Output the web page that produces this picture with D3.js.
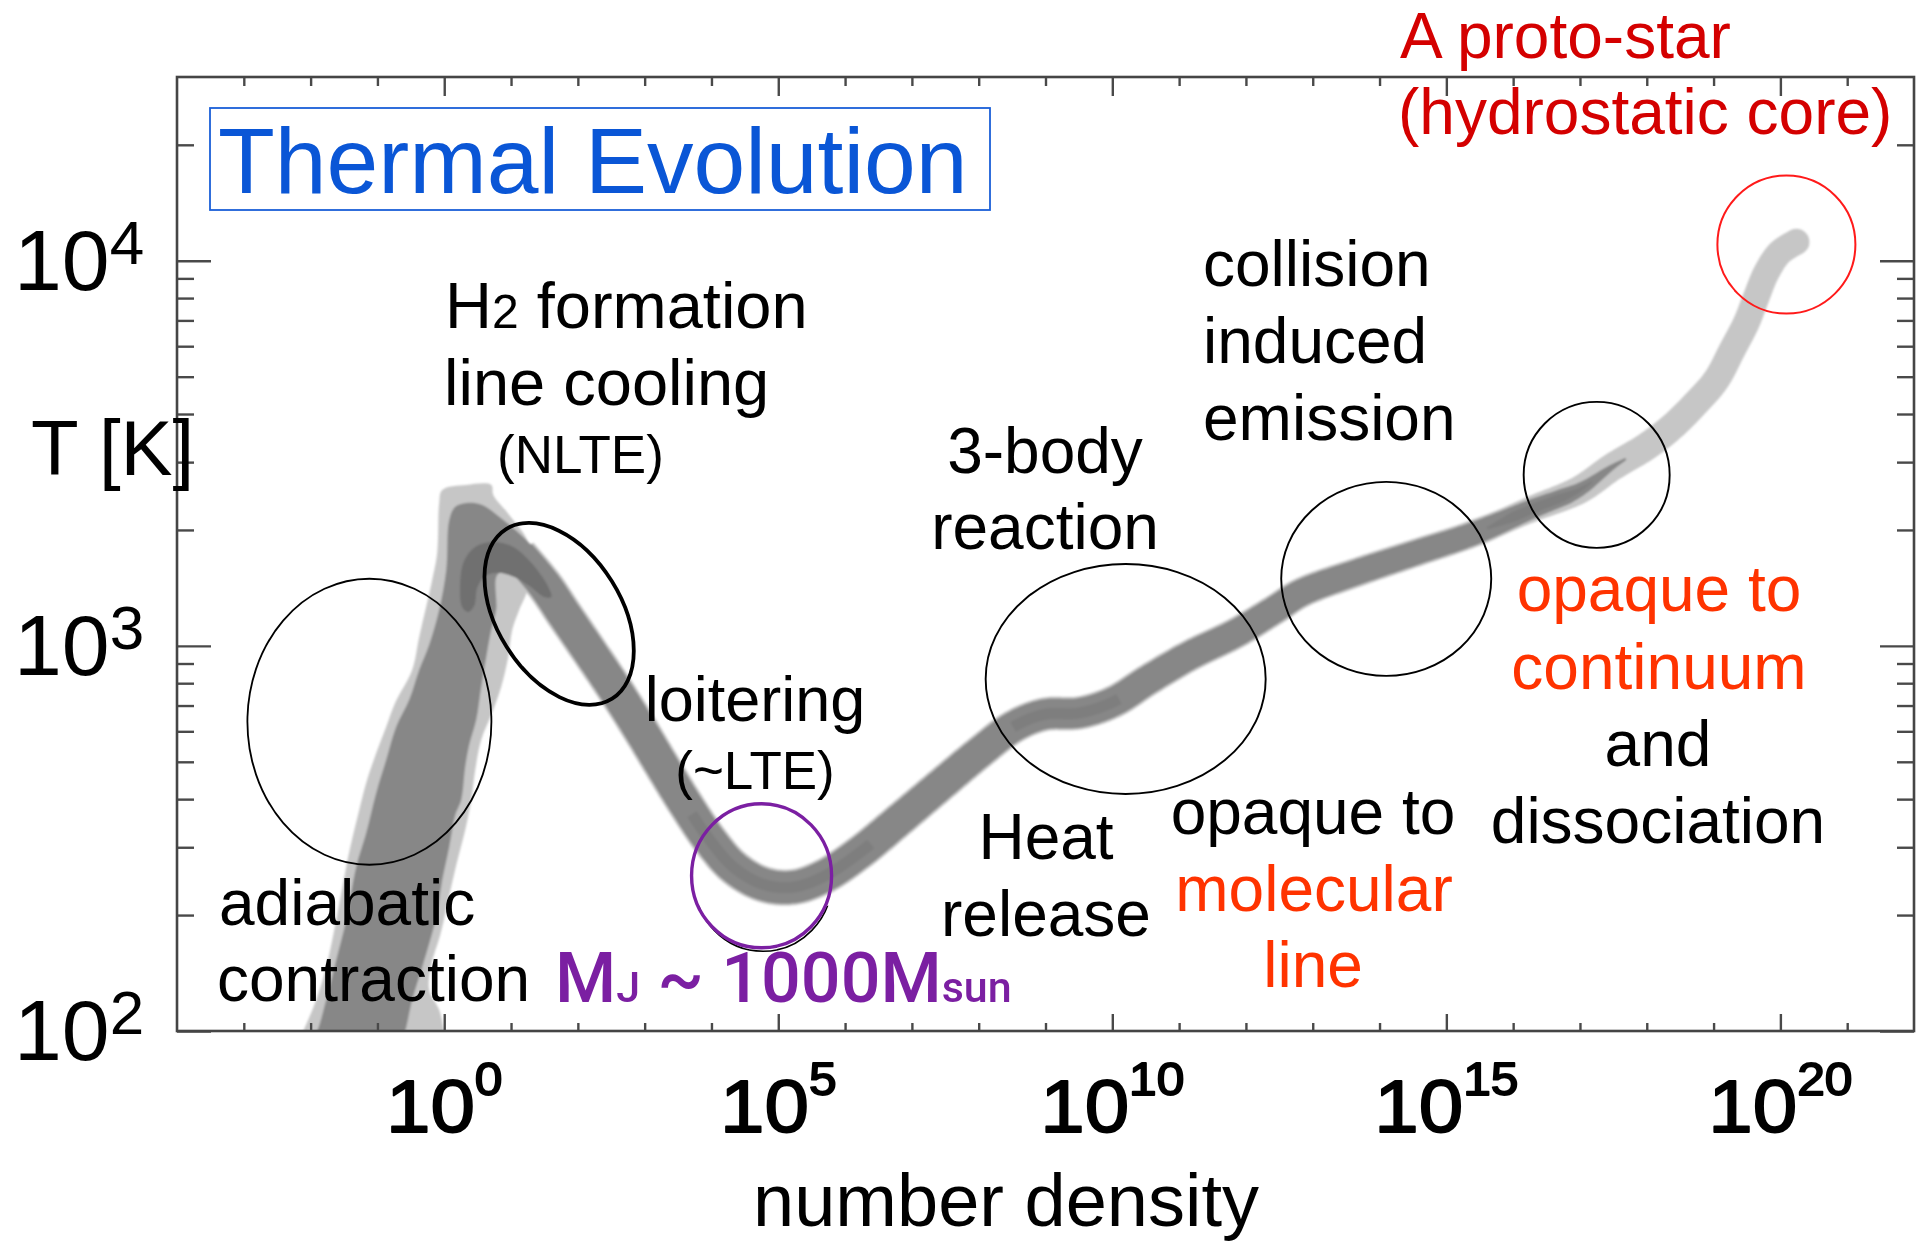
<!DOCTYPE html>
<html>
<head>
<meta charset="utf-8">
<script src="https://cdn.jsdelivr.net/npm/d3@7"></script>
<style>
  html, body { margin: 0; padding: 0; background: #fff; }
  svg { display: block; }
  text { font-family: "Liberation Sans", Arial, Helvetica, sans-serif; white-space: pre; }
</style>
</head>
<body>
<svg id="chart" width="1916" height="1242"></svg>
<script>
// ---------- data (log10 number density, log10 temperature) ----------
// mean thermal track of the collapsing cloud core, from the H2 peak onwards
const trackLogN = [1.12, 1.50, 1.78, 2.13, 2.53, 2.92, 3.26, 3.61, 3.97, 4.34,
  4.79, 5.24, 5.69, 6.21, 6.81, 7.41, 8.01, 8.53, 8.98, 9.51,
  10.02, 10.54, 11.15, 11.86, 12.43, 12.83, 13.68, 14.55, 15.40, 16.29,
  16.99, 17.49, 17.99, 18.38, 18.74, 19.04, 19.28, 19.49, 19.64, 19.79,
  19.99, 20.24];
const trackLogT = [3.236, 3.158, 3.086, 2.997, 2.894, 2.787, 2.689, 2.590, 2.497, 2.424,
  2.380, 2.374, 2.402, 2.462, 2.548, 2.636, 2.723, 2.791, 2.822, 2.826,
  2.855, 2.912, 2.974, 3.034, 3.094, 3.138, 3.192, 3.242, 3.291, 3.356,
  3.405, 3.465, 3.517, 3.569, 3.631, 3.691, 3.769, 3.839, 3.906, 3.969,
  4.021, 4.049];

// full spread of fluid elements during the low-density phase
const outerEnvelope = [
  [-2.20, 1.97], [-2.111, 2.000], [-1.916, 2.081], [-1.766, 2.166], [-1.617, 2.288],
  [-1.467, 2.426], [-1.392, 2.488], [-1.272, 2.574], [-1.168, 2.644], [-1.018, 2.722],
  [-0.868, 2.790], [-0.734, 2.852], [-0.479, 2.938], [-0.374, 3.023], [-0.180, 3.171],
  [-0.105, 3.242], [-0.075, 3.371], [-0.030, 3.405], [0.329, 3.418], [0.704, 3.418],
  [0.734, 3.392], [0.973, 3.340], [1.272, 3.262], [1.243, 3.145], [1.123, 3.094],
  [1.018, 3.042], [0.958, 2.971], [0.853, 2.894], [0.704, 2.821], [0.554, 2.756],
  [0.464, 2.678], [0.404, 2.600], [0.314, 2.522], [0.180, 2.431], [0.060, 2.340],
  [-0.060, 2.249], [-0.195, 2.171], [-0.225, 2.106], [-0.075, 2.055], [0.000, 2.000],
  [0.05, 1.97]
];
// bulk of the fluid elements
const mainEnvelope = [
  [-2.00, 1.97], [-1.901, 2.000], [-1.766, 2.081], [-1.617, 2.184], [-1.467, 2.288],
  [-1.317, 2.426], [-1.168, 2.514], [-1.018, 2.618], [-0.868, 2.704], [-0.719, 2.790],
  [-0.524, 2.860], [-0.374, 2.938], [-0.225, 3.003], [-0.075, 3.094], [0.030, 3.197],
  [0.075, 3.327], [0.165, 3.361], [0.329, 3.371], [0.569, 3.366], [0.823, 3.335],
  [1.228, 3.275], [1.497, 3.218], [1.422, 3.145], [1.168, 3.179], [0.973, 3.195],
  [0.793, 3.184], [0.778, 3.094], [0.704, 3.042], [0.629, 2.971], [0.554, 2.894],
  [0.479, 2.808], [0.374, 2.743], [0.314, 2.686], [0.254, 2.600], [0.165, 2.561],
  [0.075, 2.478], [-0.030, 2.392], [-0.120, 2.296], [-0.329, 2.166], [-0.479, 2.081],
  [-0.584, 2.000], [-0.65, 1.97]
];
// densest part around the temperature peak
const peakCore = [
  [0.269, 3.101], [0.240, 3.166], [0.299, 3.221], [0.464, 3.257], [0.734, 3.270],
  [1.033, 3.257], [1.317, 3.213], [1.557, 3.153], [1.602, 3.127], [1.497, 3.127],
  [1.272, 3.156], [1.048, 3.179], [0.808, 3.190], [0.614, 3.182], [0.494, 3.151],
  [0.449, 3.104], [0.359, 3.088]
];

// axis ticks
const densityMajor = [1e0, 1e5, 1e10, 1e15, 1e20];
const densityExponent = ["0", "5", "10", "15", "20"];
const tempMajor = [1e2, 1e3, 1e4];
const tempExponent = ["2", "3", "4"];

// centres of the highlighted phases (log10 n, log10 T)
const phaseName = ["adiabatic", "nlte", "loitering", "threeBody", "cie", "continuum", "protostar"];
const phaseLogN = [-1.12, 1.72, 4.75, 10.20, 14.10, 17.25, 20.09];
const phaseLogT = [2.803, 3.083, 2.403, 2.914, 3.174, 3.444, 4.042];

// ---------- scales ----------
const svg = d3.select("#chart");
const x = d3.scaleLog().domain([1e-4, 1e22]).range([177, 1914]);
const y = d3.scaleLog().domain([1e2, 3e4]).range([1031, 77]);
const toPx = d => [x(Math.pow(10, d[0])), y(Math.pow(10, d[1]))];

const LIGHT = "#c6c6c6", MID = "#878787", DARK = "#6f6f6f", CORE = "#7c7c7c";

const defs = svg.append("defs");
defs.append("clipPath").attr("id", "plotArea").append("rect")
  .attr("x", 177).attr("y", 77).attr("width", 1737).attr("height", 954);
defs.append("filter").attr("id", "soft").attr("x", "-5%").attr("y", "-5%")
  .attr("width", "110%").attr("height", "110%")
  .append("feGaussianBlur").attr("stdDeviation", 0.8);
defs.append("filter").attr("id", "softText")
  .append("feGaussianBlur").attr("stdDeviation", 0.6);

// ---------- the thermal track ----------
const band = svg.append("g").attr("clip-path", "url(#plotArea)")
  .append("g").attr("filter", "url(#soft)");

const closed = d3.line().curve(d3.curveCatmullRomClosed.alpha(0.5));

// sample the smoothed centre line so the band can change width along it
const trackPx = trackLogN.map((n, i) => toPx([n, trackLogT[i]]));
const probe = svg.append("path")
  .attr("d", d3.line().curve(d3.curveCatmullRom.alpha(0.5))(trackPx))
  .attr("fill", "none");
const pNode = probe.node();
const total = pNode.getTotalLength();
const samples = d3.range(0, total, 1.5).concat([total]).map(s => {
  const p = pNode.getPointAtLength(s);
  return { x: p.x, y: p.y };
});
probe.remove();
samples.forEach((p, i) => {
  const a = samples[Math.max(0, i - 3)], b = samples[Math.min(samples.length - 1, i + 3)];
  const dx = b.x - a.x, dy = b.y - a.y, l = Math.hypot(dx, dy) || 1;
  p.nx = -dy / l; p.ny = dx / l;
  p.logN = Math.log10(x.invert(p.x));
});

function ribbon(widthOf, lo, hi) {
  const seg = samples.filter(p => p.logN >= lo && p.logN <= hi);
  const left = seg.map(p => [p.x + p.nx * widthOf(p.logN) / 2, p.y + p.ny * widthOf(p.logN) / 2]);
  const right = seg.map(p => [p.x - p.nx * widthOf(p.logN) / 2, p.y - p.ny * widthOf(p.logN) / 2]).reverse();
  return d3.line()(left.concat(right)) + "Z";
}

const midWidth = d3.scaleLinear().domain([1, 4, 9, 12.5, 15.5, 16.8, 17.7])
  .range([34, 33, 30, 27, 23, 17, 2]).clamp(true);
const tailWidth = d3.scaleLinear().domain([14, 15.5, 17, 18, 20.3])
  .range([14, 24, 28, 28, 26]).clamp(true);
const coreWidth = d3.scaleLinear().domain([15.6, 16.0, 16.7, 17.2])
  .range([2, 10, 9, 1]).clamp(true);

// light outer parts
band.append("path").attr("d", closed(outerEnvelope.map(toPx))).attr("fill", LIGHT);
band.append("path").attr("d", ribbon(tailWidth, 14, 30)).attr("fill", LIGHT);
const tailEnd = samples[samples.length - 1];
band.append("circle").attr("cx", tailEnd.x).attr("cy", tailEnd.y)
  .attr("r", tailWidth(tailEnd.logN) / 2).attr("fill", LIGHT);
band.append("path").attr("d", ribbon(n => midWidth(n) + 4, -1, 17.4)).attr("fill", LIGHT);

// main band
band.append("path").attr("d", closed(mainEnvelope.map(toPx))).attr("fill", MID);
band.append("path").attr("d", ribbon(midWidth, -1, 17.7)).attr("fill", MID);

// denser cores
band.append("path").attr("d", closed(peakCore.map(toPx))).attr("fill", DARK);
[[3.7, 6.4], [8.5, 10.1]].forEach(([lo, hi]) => {
  band.append("path").attr("d", ribbon(() => 11, lo, hi)).attr("fill", CORE).attr("opacity", 0.8);
});
band.append("path").attr("d", ribbon(coreWidth, 15.6, 17.2)).attr("fill", CORE).attr("opacity", 0.8);

// ---------- frame and axes ----------
const frame = svg.append("g").attr("filter", "url(#softText)");
const minorX = d3.range(-3, 22).filter(k => k % 5 !== 0).map(k => Math.pow(10, k));
const minorY = [];
[100, 1000, 10000].forEach(base => d3.range(2, 10).forEach(m => {
  if (base * m < 3e4) minorY.push(base * m);
}));

function styleAxis(g) {
  g.select(".domain").remove();
  g.selectAll("line").attr("stroke", "#4a4a4a").attr("stroke-width", 2.4);
}
frame.append("g").attr("transform", "translate(0,1031)")
  .call(d3.axisBottom(x).tickValues(minorX).tickSize(-8).tickFormat("")).call(styleAxis);
frame.append("g").attr("transform", "translate(0,1031)")
  .call(d3.axisBottom(x).tickValues(densityMajor).tickSize(-17).tickFormat("")).call(styleAxis);
frame.append("g").attr("transform", "translate(0,77)")
  .call(d3.axisTop(x).tickValues(minorX).tickSize(-9).tickFormat("")).call(styleAxis);
frame.append("g").attr("transform", "translate(0,77)")
  .call(d3.axisTop(x).tickValues(densityMajor).tickSize(-19).tickFormat("")).call(styleAxis);
frame.append("g").attr("transform", "translate(177,0)")
  .call(d3.axisLeft(y).tickValues(minorY).tickSize(-17).tickFormat("")).call(styleAxis);
frame.append("g").attr("transform", "translate(177,0)")
  .call(d3.axisLeft(y).tickValues(tempMajor).tickSize(-34).tickFormat("")).call(styleAxis);
frame.append("g").attr("transform", "translate(1914,0)")
  .call(d3.axisRight(y).tickValues(minorY).tickSize(-17).tickFormat("")).call(styleAxis);
frame.append("g").attr("transform", "translate(1914,0)")
  .call(d3.axisRight(y).tickValues(tempMajor).tickSize(-34).tickFormat("")).call(styleAxis);
frame.append("rect").attr("x", 177).attr("y", 77).attr("width", 1737).attr("height", 954)
  .attr("fill", "none").attr("stroke", "#454545").attr("stroke-width", 2.6);

// density tick labels
const xLab = svg.append("g").attr("filter", "url(#softText)");
densityMajor.forEach((d, i) => {
  const t = xLab.append("text")
    .attr("transform", `translate(${x(d)},1132) scale(1.08,1)`)
    .attr("text-anchor", "middle").attr("fill", "#000")
    .attr("stroke", "#000").attr("stroke-width", 1.8).attr("stroke-linejoin", "round");
  t.append("tspan").attr("font-size", 74).text("10");
  t.append("tspan").attr("font-size", 46).attr("dy", -37).text(densityExponent[i]);
});
svg.append("text").attr("x", 1006).attr("y", 1226).attr("text-anchor", "middle")
  .attr("font-size", 74).text("number density");

// temperature tick labels
tempMajor.forEach((d, i) => {
  const t = svg.append("text").attr("x", 14).attr("y", y(d) + 29).attr("fill", "#000");
  t.append("tspan").attr("font-size", 86).text("10");
  t.append("tspan").attr("font-size", 62).attr("dy", -26).text(tempExponent[i]);
});
svg.append("text").attr("x", 31).attr("y", 475).attr("font-size", 78).text("T [K]");

// ---------- highlighted phases ----------
const ringStyle = {
  adiabatic: { rx: 122, ry: 143, rot: 0, stroke: "#000", w: 1.8 },
  nlte: { rx: 100, ry: 62, rot: 58, stroke: "#000", w: 3.8 },
  loitering: { rx: 70, ry: 72, rot: 0, stroke: "#7b1fa2", w: 3.4 },
  threeBody: { rx: 140, ry: 115, rot: 0, stroke: "#000", w: 1.9 },
  cie: { rx: 105, ry: 97, rot: 0, stroke: "#000", w: 1.9 },
  continuum: { rx: 73, ry: 73, rot: 0, stroke: "#000", w: 1.9 },
  protostar: { rx: 69, ry: 69, rot: 0, stroke: "#ff1a1a", w: 2.0 }
};
const rings = svg.append("g");
phaseName.forEach((name, i) => {
  const [cx, cy] = toPx([phaseLogN[i], phaseLogT[i]]);
  const s = ringStyle[name];
  if (name === "loitering") {
    // thin dark outline peeking out below the coloured ring
    defs.append("clipPath").attr("id", "lowerHalf").append("rect")
      .attr("x", cx - 100).attr("y", cy + 30).attr("width", 200).attr("height", 70);
    rings.append("ellipse").attr("cx", cx + 1.5).attr("cy", cy + 4)
      .attr("rx", s.rx - 1).attr("ry", s.ry - 0.5)
      .attr("clip-path", "url(#lowerHalf)")
      .attr("fill", "none").attr("stroke", "#000").attr("stroke-width", 1.6);
  }
  rings.append("ellipse")
    .attr("transform", `translate(${cx},${cy}) rotate(${s.rot})`)
    .attr("rx", s.rx).attr("ry", s.ry)
    .attr("fill", "none").attr("stroke", s.stroke).attr("stroke-width", s.w);
});

// ---------- annotations ----------
const notes = svg.append("g");
function note(str, px, py, opt = {}) {
  return notes.append("text").attr("x", px).attr("y", py)
    .attr("font-size", opt.size || 64)
    .attr("text-anchor", opt.anchor || "start")
    .attr("fill", opt.color || "#000")
    .text(str);
}

// title box
svg.append("rect").attr("x", 210).attr("y", 108).attr("width", 780).attr("height", 102)
  .attr("fill", "none").attr("stroke", "#1a5fd8").attr("stroke-width", 1.8);
note("Thermal Evolution", 218, 193, { size: 93, color: "#0a56d6" });

const h2 = notes.append("text").attr("x", 445).attr("y", 328).attr("font-size", 65);
h2.append("tspan").text("H");
h2.append("tspan").attr("font-size", 48).text("2");
h2.append("tspan").text(" formation");
note("line cooling", 444, 405, { size: 65 });
note("(NLTE)", 497, 473, { size: 53 });

note("loitering", 755, 721, { anchor: "middle", size: 63 });
note("(~LTE)", 755, 789, { anchor: "middle", size: 53 });

note("adiabatic", 219, 925);
note("contraction", 217, 1001);

const mj = notes.append("text").attr("x", 555).attr("y", 1002)
  .attr("fill", "#7b1fa2").attr("font-size", 70).attr("font-weight", 500)
  .style("font-family", "Roboto, 'Liberation Sans', Arial, sans-serif");
mj.append("tspan").text("M");
mj.append("tspan").attr("font-size", 43).text("J");
mj.append("tspan").text(" ~ 1000M");
mj.append("tspan").attr("font-size", 43).text("sun");

note("3-body", 1045, 473, { anchor: "middle" });
note("reaction", 1045, 549, { anchor: "middle" });
note("Heat", 1046, 859, { anchor: "middle" });
note("release", 1046, 936, { anchor: "middle" });

note("opaque to", 1313, 834, { anchor: "middle" });
note("molecular", 1314, 911, { anchor: "middle", color: "#ff3300" });
note("line", 1313, 987, { anchor: "middle", color: "#ff3300" });

note("collision", 1203, 286);
note("induced", 1203, 363);
note("emission", 1203, 440);

note("opaque to", 1659, 611, { anchor: "middle", color: "#ff3300" });
note("continuum", 1659, 689, { anchor: "middle", color: "#ff3300" });
note("and", 1658, 766, { anchor: "middle" });
note("dissociation", 1658, 843, { anchor: "middle" });

note("A proto-star", 1400, 58, { size: 64, color: "#d40000" });
note("(hydrostatic core)", 1398, 134, { size: 64, color: "#d40000" });
</script>
</body>
</html>
